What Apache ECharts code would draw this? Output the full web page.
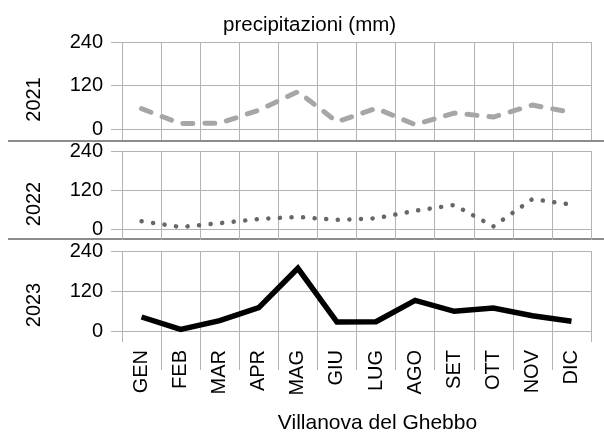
<!DOCTYPE html>
<html>
<head>
<meta charset="utf-8">
<script src="https://cdn.jsdelivr.net/npm/echarts@6/dist/echarts.min.js"></script>
<style>
  html, body { margin: 0; padding: 0; background: #ffffff; }
  #chart { width: 604px; height: 435px; }
</style>
</head>
<body>
<div id="chart"></div>
<script>
// mesi e precipitazioni mensili (mm)
const months = ['GEN', 'FEB', 'MAR', 'APR', 'MAG', 'GIU', 'LUG', 'AGO', 'SET', 'OTT', 'NOV', 'DIC']
const years = ['2021', '2022', '2023']
const rain2021 = [56, 15, 16, 52, 103, 20, 57, 12, 44, 33, 66, 46]
const rain2022 = [24, 6, 18, 31, 37, 28, 33, 56, 74, 8, 92, 75]
const rain2023 = [42, 5, 31, 70, 188, 27, 28, 92, 59, 69, 46, 29]
const yTicks = [0, 120, 240]

const font = 'Liberation Sans'
const gridColor = '#b3b3b3'

// pannelli
const panels = [
  { top: 42, height: 87 },
  { top: 151, height: 78 },
  { top: 251, height: 86 }
]

const grids = panels.map(p => ({ left: 122, right: 13, top: p.top, height: p.height }))
// striscia sotto l'ultimo pannello per le linee tra le etichette
grids.push({ left: 122, right: 13, top: 337, height: 33 })

const xAxes = panels.map((p, i) => ({
  type: 'category',
  gridIndex: i,
  data: months,
  boundaryGap: true,
  axisLine: { show: false },
  axisTick: { show: true, length: 11, lineStyle: { color: gridColor } },
  splitLine: { show: true, lineStyle: { color: gridColor } },
  axisLabel: {
    show: i === 2,
    rotate: 90,
    margin: 19,
    fontSize: 20,
    fontFamily: font,
    color: '#000'
  },
  name: i === 2 ? 'Villanova del Ghebbo' : '',
  nameLocation: 'middle',
  nameGap: 82,
  nameTextStyle: { fontSize: 21, fontFamily: font, color: '#000', padding: [0, 0, 0, 42] }
}))
xAxes.push({
  type: 'category',
  gridIndex: 3,
  data: months,
  boundaryGap: true,
  axisLine: { show: false },
  axisTick: { show: false },
  axisLabel: { show: false },
  splitLine: { show: true, showMinLine: false, showMaxLine: false, lineStyle: { color: gridColor } }
})

const yAxes = panels.map((p, i) => ({
  type: 'value',
  gridIndex: i,
  min: yTicks[0],
  max: yTicks[yTicks.length - 1],
  interval: yTicks[1] - yTicks[0],
  axisLine: { show: false },
  axisTick: { show: true, length: 11, lineStyle: { color: gridColor } },
  splitLine: { show: true, lineStyle: { color: gridColor } },
  axisLabel: { margin: 19, fontSize: 20, fontFamily: font, color: '#000' },
  name: years[i],
  nameLocation: 'middle',
  nameRotate: 90,
  nameGap: 78,
  nameTextStyle: { fontSize: 20, fontFamily: font, color: '#000', padding: [0, 28, 0, 0] }
}))
yAxes.push({ type: 'value', gridIndex: 3, min: 0, max: 1, show: false })

const option = {
  animation: false,
  title: {
    text: 'precipitazioni (mm)',
    left: 223,
    top: 15,
    padding: 0,
    textStyle: { fontSize: 20.5, fontWeight: 'normal', fontFamily: font, color: '#000' }
  },
  grid: grids,
  xAxis: xAxes,
  yAxis: yAxes,
  graphic: [
    { type: 'line', shape: { x1: 8, y1: 141, x2: 604, y2: 141 }, style: { stroke: '#666', lineWidth: 1.3 } },
    { type: 'line', shape: { x1: 8, y1: 239, x2: 604, y2: 239 }, style: { stroke: '#666', lineWidth: 1.3 } }
  ],
  series: [
    {
      name: '2021',
      type: 'line',
      xAxisIndex: 0,
      yAxisIndex: 0,
      data: rain2021,
      showSymbol: false,
      lineStyle: { color: '#a6a6a6', width: 5, type: [10, 12], cap: 'round', join: 'round' }
    },
    {
      name: '2022',
      type: 'line',
      xAxisIndex: 1,
      yAxisIndex: 1,
      data: rain2022,
      showSymbol: false,
      lineStyle: { color: '#666666', width: 4.5, type: [0.1, 11.5], cap: 'round', join: 'round' }
    },
    {
      name: '2023',
      type: 'line',
      xAxisIndex: 2,
      yAxisIndex: 2,
      data: rain2023,
      showSymbol: false,
      lineStyle: { color: '#000000', width: 5.5, join: 'miter' }
    }
  ]
}

echarts.init(document.getElementById('chart')).setOption(option)
</script>
</body>
</html>
